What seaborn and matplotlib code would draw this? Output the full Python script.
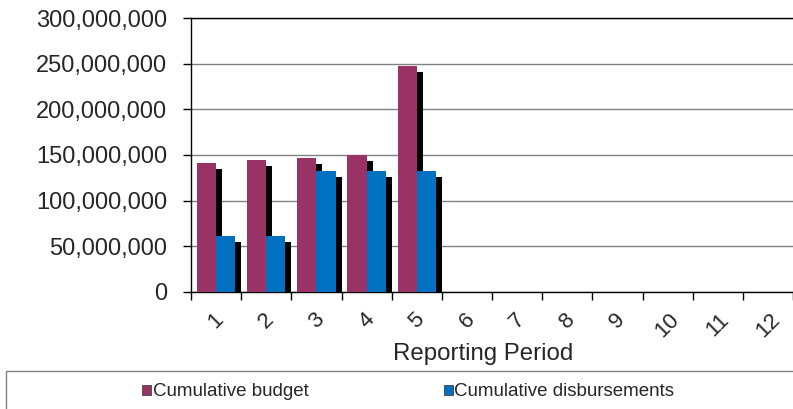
import numpy as np
import pandas as pd
import matplotlib
matplotlib.use("Agg")
import matplotlib.pyplot as plt
import matplotlib.transforms as mtransforms
from matplotlib.patches import Patch, Rectangle
from matplotlib.ticker import FuncFormatter
import seaborn as sns

# chart data
periods = [str(i) for i in range(1, 13)]
budget = [141e6, 144e6, 147e6, 150e6, 247e6] + [np.nan] * 7
disbursements = [61e6, 61e6, 133e6, 133e6, 133e6] + [np.nan] * 7
series_names = ["Cumulative budget", "Cumulative disbursements"]
colors = ["#993366", "#0070c0"]

df = pd.DataFrame({
    "period": periods * 2,
    "series": [series_names[0]] * 12 + [series_names[1]] * 12,
    "value": budget + disbursements,
})

sns.set_style("white")
plt.rcParams["font.family"] = ["Liberation Sans", "DejaVu Sans"]

fig = plt.figure(figsize=(7.93, 4.09), dpi=100)
ax = fig.add_axes([191 / 793, 1 - 292 / 409, 1 - 191 / 793, (292 - 18) / 409])

sns.barplot(data=df, x="period", y="value", hue="series", order=periods,
            hue_order=series_names, palette=colors, width=0.765,
            saturation=1, linewidth=0, legend=False, ax=ax, zorder=3)

# black drop shadows behind each bar
shadow_tf = ax.transData + mtransforms.ScaledTranslation(0.06, -0.06, fig.dpi_scale_trans)
for p in list(ax.patches):
    h = p.get_height()
    if np.isfinite(h) and h > 0:
        ax.add_patch(Rectangle((p.get_x(), p.get_y()), p.get_width(), h,
                               facecolor="black", edgecolor="none",
                               transform=shadow_tf, zorder=2))

ax.set_ylim(0, 300e6)
ax.set_xlim(-0.5, 11.5)
ax.set_yticks(np.arange(0, 300e6 + 1, 50e6))
ax.yaxis.set_major_formatter(FuncFormatter(lambda v, p: f"{v:,.0f}"))
ax.yaxis.grid(True, color="#808080", linewidth=1, zorder=0)
ax.set_axisbelow(True)

for side in ["left", "bottom", "top"]:
    ax.spines[side].set_color("black")
    ax.spines[side].set_linewidth(1)
ax.spines["right"].set_visible(False)

ax.tick_params(axis="y", length=6, width=1, color="black", labelsize=17, pad=11,
               left=True)
ax.set_xticks(np.arange(-0.5, 12, 1), minor=True)
ax.tick_params(axis="x", which="minor", length=6, width=1, color="black", bottom=True)
ax.tick_params(axis="x", which="major", length=0, labelsize=16, pad=12)
for lbl in ax.get_xticklabels():
    lbl.set_rotation(45)
    lbl.set_ha("center")
    lbl.set_va("top")

ax.set_ylabel("")
ax.set_xlabel("Reporting Period", fontsize=17.3)
ax.xaxis.set_label_coords(0.485, -0.185)

# legend box at the bottom
fig.add_artist(Rectangle((6 / 793, -0.1), 1.0, 0.1 + (409 - 371) / 409,
                         transform=fig.transFigure, fill=False,
                         edgecolor="#808080", linewidth=1))
handles = [Patch(facecolor=c, edgecolor="#404040", linewidth=0.6) for c in colors]
fig.legend(handles, series_names, loc="center left",
           bbox_to_anchor=(142 / 793, 1 - 392 / 409), ncol=2, frameon=False,
           fontsize=13.5, handlelength=0.5, handleheight=0.5,
           handletextpad=0.08, columnspacing=7.2, borderpad=0, borderaxespad=0)

fig.savefig("out.png", dpi=100)
